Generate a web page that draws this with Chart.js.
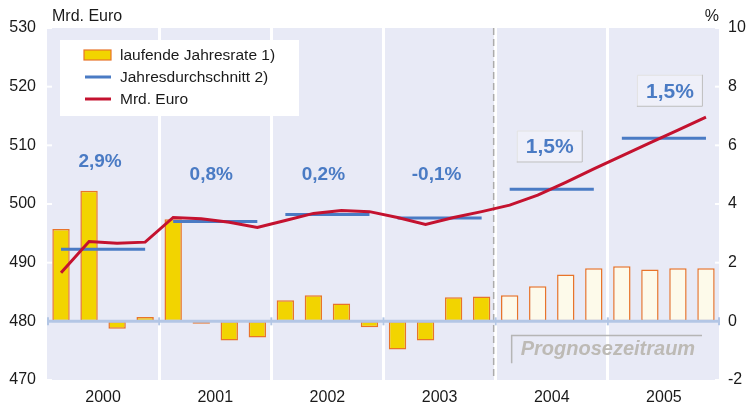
<!DOCTYPE html>
<html>
<head>
<meta charset="utf-8">
<script src="https://cdn.jsdelivr.net/npm/chart.js@4"></script>
<style>
  html, body { margin: 0; padding: 0; background: #ffffff; }
  #wrap { width: 746px; height: 408px; }
</style>
</head>
<body>
<div id="wrap"><canvas id="gdpChart" width="746" height="408"></canvas></div>
<script>
// quarters 2000..2005, years on the lower axis
const years = ['2000', '2001', '2002', '2003', '2004', '2005'];
const quarters = ['Q1', 'Q2', 'Q3', 'Q4'];

// laufende Jahresrate (%), right axis
const quarterlyRate = [
  3.15, 4.45, -0.25, 0.15,
  3.48, -0.08, -0.65, -0.55,
  0.72, 0.89, 0.61, -0.2,
  -0.96, -0.65, 0.82, 0.85,
  0.89, 1.2, 1.6, 1.81,
  1.88, 1.77, 1.81, 1.81
];

// Mrd. Euro level, left axis
const levelMrd = [
  488.3, 493.6, 493.3, 493.5,
  497.7, 497.5, 496.9, 496.0,
  497.2, 498.4, 498.9, 498.7,
  497.7, 496.5, 497.7, 498.7,
  499.8, 501.5, 503.7, 506.0,
  508.2, 510.4, 512.6, 514.8
];

// Jahresdurchschnitt (Mrd. Euro)
const annualAvg = [492.3, 497.0, 498.2, 497.6, 502.5, 511.2];
const growthLabels = ['2,9%', '0,8%', '0,2%', '-0,1%', '1,5%', '1,5%'];

const leftTicks = [470, 480, 490, 500, 510, 520, 530];
const rightTicks = [-2, 0, 2, 4, 6, 8, 10];

const forecastFrom = 4; // index of first forecast year

const labels = [];
years.forEach(y => quarters.forEach(q => labels.push(y + ' ' + q)));
const avgSeries = [];
annualAvg.forEach(v => quarters.forEach(() => avgSeries.push(v)));

const FONT = '"Liberation Sans", Arial, sans-serif';
const YELLOW = '#f2d400';
const CREAM = '#fdfaea';
const ORANGE = '#e8742a';
const BLUE = '#4a7bc4';
const RED = '#c4122f';

const decorPlugin = {
  id: 'decor',
  beforeDraw(chart) {
    const a = chart.chartArea, c = chart.ctx;
    c.save();
    c.fillStyle = '#e8eaf6';
    c.fillRect(a.left, a.top, a.right - a.left, a.bottom - a.top);
    c.restore();
  },
  beforeDatasetsDraw(chart) {
    const a = chart.chartArea, c = chart.ctx;
    const xs = chart.scales.years;
    // dashed line at start of forecast
    const bx = (xs.getPixelForValue(forecastFrom - 1) + xs.getPixelForValue(forecastFrom)) / 2 - 2;
    c.save();
    c.strokeStyle = '#ababab';
    c.lineWidth = 1.5;
    c.setLineDash([7, 4]);
    c.beginPath();
    c.moveTo(bx, a.top);
    c.lineTo(bx, a.bottom);
    c.stroke();
    c.restore();
    // little white ticks on the inner edges
    c.save();
    c.strokeStyle = '#ffffff';
    c.lineWidth = 2;
    leftTicks.forEach(t => {
      const y = chart.scales.y.getPixelForValue(t);
      c.beginPath(); c.moveTo(a.left, y); c.lineTo(a.left + 5, y); c.stroke();
    });
    rightTicks.forEach(t => {
      const y = chart.scales.y1.getPixelForValue(t);
      c.beginPath(); c.moveTo(a.right - 5, y); c.lineTo(a.right, y); c.stroke();
    });
    c.restore();
  },
  afterDatasetsDraw(chart) {
    // zero line of the % axis, over the bars
    const a = chart.chartArea, c = chart.ctx;
    const y0 = chart.scales.y1.getPixelForValue(0);
    const xs = chart.scales.years;
    c.save();
    c.strokeStyle = '#b3c6e5';
    c.lineWidth = 3;
    c.beginPath();
    c.moveTo(a.left, y0);
    c.lineTo(a.right, y0);
    c.stroke();
    c.lineWidth = 2;
    for (let i = 0; i <= years.length; i++) {
      const x = i === 0 ? a.left + 1 : (i === years.length ? a.right - 1 :
        (xs.getPixelForValue(i - 1) + xs.getPixelForValue(i)) / 2);
      c.beginPath(); c.moveTo(x, y0 - 4); c.lineTo(x, y0 + 4); c.stroke();
    }
    c.restore();
  },
  afterDraw(chart) {
    const a = chart.chartArea, c = chart.ctx;
    const xs = chart.scales.years, ys = chart.scales.y, y1 = chart.scales.y1;
    c.save();
    // axis titles
    c.fillStyle = '#1a1a1a';
    c.font = '16px ' + FONT;
    c.textBaseline = 'middle';
    c.textAlign = 'left';
    c.fillText('Mrd. Euro', a.left + 5, 17);
    c.textAlign = 'right';
    c.fillText('%', a.right - 1, 17);

    // growth labels
    const labelLevel = [507.4, 505.2, 505.2, 505.2, 509.8, 519.3];
    const labelDx = [-3, -4, -4, -3, -2, 6];
    growthLabels.forEach((txt, i) => {
      const x = xs.getPixelForValue(i) + labelDx[i];
      const y = ys.getPixelForValue(labelLevel[i]);
      if (i >= forecastFrom) {
        c.font = 'bold 21px ' + FONT;
        const w = 66, h = 32;
        c.fillStyle = 'rgba(240,241,250,0.9)';
        c.fillRect(x - w / 2, y - h / 2, w, h);
        c.lineWidth = 1;
        c.strokeStyle = '#e2e2e2';
        c.beginPath();
        c.moveTo(x - w / 2 + 0.5, y + h / 2);
        c.lineTo(x - w / 2 + 0.5, y - h / 2 + 0.5);
        c.lineTo(x + w / 2, y - h / 2 + 0.5);
        c.stroke();
        c.strokeStyle = '#bdbdbd';
        c.beginPath();
        c.moveTo(x + w / 2 - 0.5, y - h / 2);
        c.lineTo(x + w / 2 - 0.5, y + h / 2 - 0.5);
        c.lineTo(x - w / 2, y + h / 2 - 0.5);
        c.stroke();
      } else {
        c.font = 'bold 19px ' + FONT;
      }
      c.fillStyle = BLUE;
      c.textAlign = 'center';
      c.textBaseline = 'middle';
      c.fillText(txt, x, y + 1);
    });

    // Prognosezeitraum bracket
    const px = (xs.getPixelForValue(forecastFrom - 1) + xs.getPixelForValue(forecastFrom)) / 2 + 16;
    const py = y1.getPixelForValue(-0.48);
    const pb = y1.getPixelForValue(-1.43);
    c.strokeStyle = '#b5b5b5';
    c.lineWidth = 1.5;
    c.beginPath();
    c.moveTo(px, pb);
    c.lineTo(px, py);
    c.lineTo(a.right - 18, py);
    c.stroke();
    c.fillStyle = '#bdbab5';
    c.font = 'italic bold 20px ' + FONT;
    c.textAlign = 'left';
    c.textBaseline = 'alphabetic';
    c.fillText('Prognosezeitraum', px + 9, py + 20);

    // legend box
    const lx = a.left + 13, ly = a.top + 12, lw = 239, lh = 76;
    c.fillStyle = '#ffffff';
    c.fillRect(lx, ly, lw, lh);
    c.font = '15.5px ' + FONT;
    c.textBaseline = 'middle';
    c.textAlign = 'left';
    chart.data.datasets.forEach((ds, i) => {
      const cy = ly + 15 + i * 22;
      if (ds.type === 'bar') {
        c.fillStyle = YELLOW;
        c.fillRect(lx + 24, cy - 5, 27, 10);
        c.strokeStyle = ORANGE;
        c.lineWidth = 1.2;
        c.strokeRect(lx + 24, cy - 5, 27, 10);
      } else {
        c.strokeStyle = ds.borderColor;
        c.lineWidth = 3;
        c.beginPath();
        c.moveTo(lx + 25, cy);
        c.lineTo(lx + 51, cy);
        c.stroke();
      }
      c.fillStyle = '#1a1a1a';
      c.fillText(ds.label, lx + 60, cy + 1);
    });
    c.restore();
  }
};

new Chart(document.getElementById('gdpChart').getContext('2d'), {
  data: {
    labels: labels,
    datasets: [
      {
        type: 'bar',
        label: 'laufende Jahresrate 1)',
        data: quarterlyRate,
        yAxisID: 'y1',
        xAxisID: 'x',
        backgroundColor: quarterlyRate.map((v, i) => i >= forecastFrom * 4 ? CREAM : YELLOW),
        borderColor: ORANGE,
        borderWidth: 1.5,
        borderSkipped: false,
        barPercentage: 0.62,
        categoryPercentage: 1,
        order: 3
      },
      {
        type: 'line',
        label: 'Jahresdurchschnitt 2)',
        data: avgSeries,
        yAxisID: 'y',
        xAxisID: 'x',
        borderColor: BLUE,
        borderWidth: 3,
        pointRadius: 0,
        tension: 0,
        segment: {
          borderColor: ctx => ctx.p0DataIndex % 4 === 3 ? 'rgba(0,0,0,0)' : BLUE
        },
        order: 2
      },
      {
        type: 'line',
        label: 'Mrd. Euro',
        data: levelMrd,
        yAxisID: 'y',
        xAxisID: 'x',
        borderColor: RED,
        borderWidth: 3,
        pointRadius: 0,
        tension: 0,
        order: 1
      }
    ]
  },
  options: {
    responsive: false,
    animation: false,
    layout: { padding: { top: 28, left: 0, right: 0, bottom: 0 } },
    plugins: {
      legend: { display: false },
      tooltip: { enabled: false }
    },
    scales: {
      x: {
        type: 'category',
        display: false,
        offset: true
      },
      years: {
        type: 'category',
        position: 'bottom',
        labels: years,
        offset: true,
        grid: {
          offset: true,
          drawTicks: false,
          lineWidth: 3,
          color: ctx => (ctx.index === 0 || ctx.index === years.length) ? 'rgba(0,0,0,0)' : '#ffffff'
        },
        border: { display: false },
        ticks: { color: '#1a1a1a', font: { family: FONT, size: 16 }, padding: 8, maxRotation: 0 },
        afterFit(scale) { scale.height = 28; }
      },
      y: {
        position: 'left',
        min: 470,
        max: 530,
        grid: { display: false, drawTicks: false },
        border: { display: false },
        ticks: { stepSize: 10, color: '#1a1a1a', font: { family: FONT, size: 16 }, padding: 11 },
        afterFit(scale) { scale.width = 47; }
      },
      y1: {
        position: 'right',
        min: -2,
        max: 10,
        grid: { display: false, drawTicks: false },
        border: { display: false },
        ticks: { stepSize: 2, color: '#1a1a1a', font: { family: FONT, size: 16 }, padding: 8 },
        afterFit(scale) { scale.width = 26; }
      }
    }
  },
  plugins: [decorPlugin]
});
</script>
</body>
</html>
